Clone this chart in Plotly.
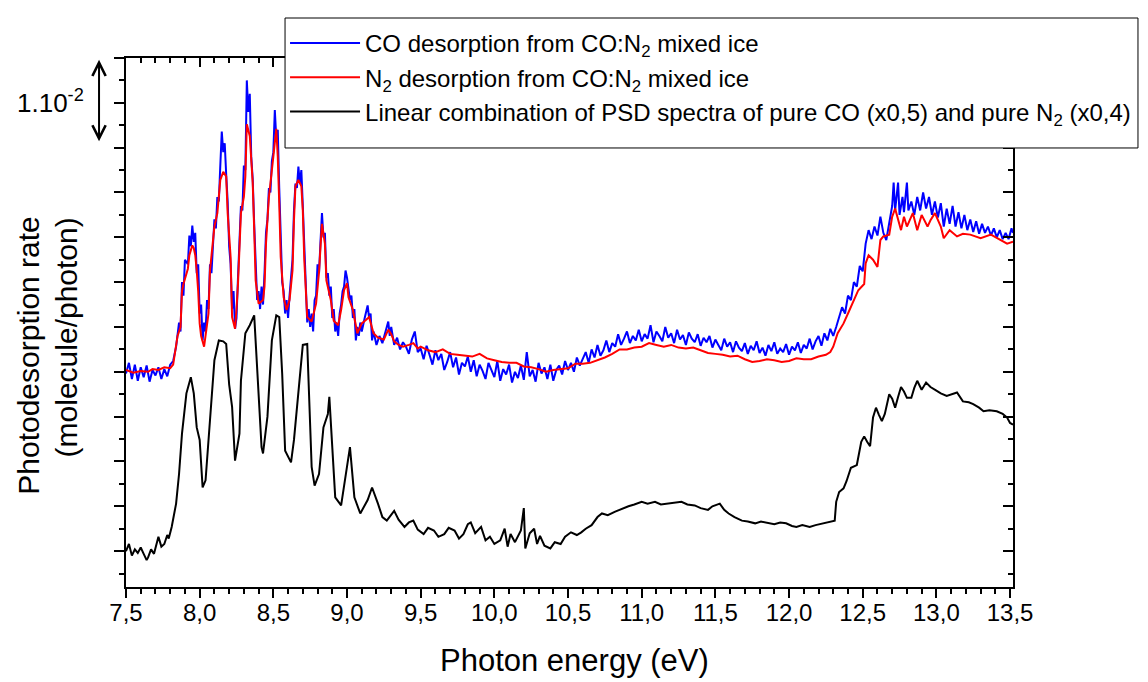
import plotly.graph_objects as go

# ---------------- data (photon energy in eV, rate in units of 1e-2 molecule/photon, arbitrary offset) -------------
co_energy = [7.50, 7.52, 7.54, 7.56, 7.58, 7.60, 7.62, 7.64, 7.66, 7.68, 7.70, 7.72, 7.74, 7.76, 7.78, 7.80,
             7.82, 7.84, 7.86, 7.87, 7.88, 7.89, 7.90, 7.92, 7.93, 7.94, 7.95, 7.96, 7.97, 7.98, 7.99,
             8.00, 8.01, 8.02, 8.03, 8.04, 8.05, 8.06, 8.07, 8.08, 8.10, 8.11, 8.12, 8.13, 8.14, 8.15,
             8.16, 8.17, 8.18, 8.19, 8.20, 8.21, 8.22, 8.23, 8.24, 8.25, 8.26, 8.27, 8.28, 8.29, 8.30,
             8.31, 8.32, 8.33, 8.34, 8.35, 8.36, 8.37, 8.38, 8.39, 8.40, 8.41, 8.42, 8.43, 8.44, 8.45,
             8.46, 8.47, 8.48, 8.49, 8.50, 8.51, 8.52, 8.53, 8.54, 8.55, 8.56, 8.57, 8.58, 8.59, 8.60,
             8.61, 8.62, 8.63, 8.64, 8.65, 8.66, 8.67, 8.68, 8.69, 8.70, 8.71, 8.72, 8.73, 8.74, 8.75,
             8.76, 8.77, 8.78, 8.79, 8.80, 8.81, 8.82, 8.83, 8.84, 8.85, 8.86, 8.87, 8.88, 8.89, 8.90,
             8.91, 8.92, 8.93, 8.94, 8.95, 8.96, 8.97, 8.98, 8.99, 9.00, 9.01, 9.02, 9.03, 9.04, 9.05,
             9.06, 9.07, 9.08, 9.09, 9.10, 9.12, 9.14, 9.15, 9.16, 9.17, 9.18, 9.20, 9.22, 9.24, 9.26,
             9.28, 9.29, 9.30, 9.32,
             9.34, 9.36, 9.38, 9.40, 9.42, 9.44, 9.46, 9.48, 9.50, 9.52, 9.54, 9.56, 9.58, 9.60, 9.62,
             9.64, 9.66, 9.68, 9.70, 9.72, 9.74, 9.76, 9.78, 9.80, 9.82, 9.84, 9.86, 9.88, 9.90, 9.92,
             9.94, 9.96, 9.98, 10.00, 10.02, 10.04, 10.06, 10.08, 10.10, 10.12, 10.14, 10.16, 10.18,
             10.20, 10.22, 10.24, 10.26, 10.28, 10.30, 10.32, 10.34, 10.36, 10.38, 10.40, 10.42, 10.44,
             10.46, 10.48, 10.50, 10.52, 10.54, 10.56, 10.58, 10.60, 10.62, 10.64, 10.66, 10.68, 10.70,
             10.72, 10.74, 10.76, 10.78, 10.80, 10.82, 10.84, 10.86, 10.88, 10.90, 10.92, 10.94, 10.96,
             10.98, 11.00, 11.02, 11.04, 11.06, 11.08, 11.10, 11.12, 11.14, 11.16, 11.18, 11.20, 11.22,
             11.24, 11.26, 11.28, 11.30, 11.32, 11.34, 11.36, 11.38, 11.40, 11.42, 11.44, 11.46, 11.48,
             11.50, 11.52, 11.54, 11.56, 11.58, 11.60, 11.62, 11.64, 11.66, 11.68, 11.70, 11.72, 11.74,
             11.76, 11.78, 11.80, 11.82, 11.84, 11.86, 11.88, 11.90, 11.92, 11.94, 11.96, 11.98, 12.00,
             12.02, 12.04, 12.06, 12.08, 12.10, 12.12, 12.14, 12.16, 12.18, 12.20, 12.22, 12.24, 12.26,
             12.28,
             12.30, 12.32, 12.34, 12.36, 12.38, 12.40, 12.42, 12.44, 12.46, 12.48, 12.50, 12.52, 12.54,
             12.56, 12.58, 12.60, 12.62, 12.64, 12.66, 12.68, 12.70, 12.71, 12.72, 12.74, 12.75, 12.77,
             12.78, 12.80, 12.81, 12.83, 12.85, 12.87, 12.89, 12.91, 12.93, 12.95, 12.97, 12.99, 13.01,
             13.03, 13.05, 13.07, 13.09, 13.11, 13.13, 13.15, 13.17, 13.19, 13.21, 13.23, 13.25, 13.27,
             13.29, 13.31, 13.33, 13.35, 13.37, 13.39, 13.41, 13.43, 13.45, 13.47, 13.49, 13.51, 13.52]
co_rate = [2.48, 2.60, 2.42, 2.58, 2.40, 2.55, 2.44, 2.57, 2.39, 2.52, 2.46, 2.55, 2.42, 2.53, 2.45, 2.58,
           2.62, 2.78, 3.05, 2.95, 3.50, 3.35, 3.75, 3.70, 4.02, 3.90, 4.13, 3.95, 4.05, 3.60, 3.70,
           3.15, 3.25, 2.85, 3.05, 2.95, 3.30, 3.20, 3.70, 3.60, 4.20, 4.10, 4.45, 4.40, 4.80, 5.18,
           4.95, 5.05, 4.70, 4.40, 3.90, 3.70, 3.20, 3.40, 2.98, 3.10, 3.55, 3.90, 4.35, 4.30, 4.80,
           4.75, 5.75, 5.40, 5.60, 4.90, 4.65, 4.15, 3.60, 3.30, 3.40, 3.20, 3.45, 3.25, 3.60, 4.05,
           4.20, 4.55, 4.50, 4.85, 4.95, 5.42, 5.10, 5.20, 4.55, 4.00, 3.50, 3.40, 3.15, 3.30, 3.10,
           3.35, 3.55, 3.75, 4.30, 4.60, 4.55, 4.79, 4.60, 4.75, 4.35, 3.85, 3.40, 3.05, 3.20, 3.00,
           3.15, 2.95, 3.30, 3.35, 3.70, 3.60, 3.95, 4.27, 4.00, 4.05, 3.55, 3.60, 3.35, 3.45, 3.10,
           3.20, 2.95, 3.05, 2.90, 3.15, 3.25, 3.40, 3.45, 3.63, 3.55, 3.45, 3.30, 3.35, 3.10, 3.20,
           2.85, 3.00, 2.90, 3.05, 2.95, 3.10, 3.24, 3.10, 3.15, 2.85, 2.95, 2.80, 2.90, 2.82, 2.95,
           3.06, 2.90, 3.00, 2.80,
           2.88, 2.75, 2.83, 2.78, 2.70, 2.86, 2.95, 2.72, 2.76, 2.64, 2.79, 2.69, 2.58, 2.74, 2.63,
           2.70, 2.52, 2.61, 2.72, 2.55, 2.66, 2.47, 2.60, 2.56, 2.67, 2.50, 2.63, 2.45, 2.58, 2.51,
           2.42, 2.60, 2.52, 2.44, 2.62, 2.40, 2.53, 2.47, 2.58, 2.38, 2.50, 2.43, 2.57,
           2.41, 2.72, 2.45, 2.52, 2.39, 2.60, 2.48, 2.55, 2.42, 2.58, 2.40, 2.52, 2.57,
           2.47, 2.62, 2.52, 2.60, 2.50, 2.66, 2.57, 2.64, 2.72, 2.60, 2.75, 2.66, 2.80,
           2.68, 2.74, 2.85, 2.72, 2.82, 2.78, 2.92, 2.80, 2.87, 2.95, 2.82, 2.90, 2.85,
           2.97, 2.84, 2.92, 2.87, 3.02, 2.83, 2.95, 2.90, 2.84, 3.00, 2.88, 2.93, 2.82,
           2.97, 2.86, 2.91, 2.80, 2.94, 2.87, 2.83, 2.92, 2.79, 2.88, 2.83, 2.90, 2.77,
           2.86, 2.80, 2.74, 2.87, 2.78, 2.83, 2.72, 2.84, 2.77, 2.73, 2.82, 2.70, 2.79,
           2.74, 2.84, 2.71, 2.77, 2.68, 2.80, 2.73, 2.83, 2.70, 2.76, 2.72, 2.81, 2.69,
           2.78, 2.74, 2.83, 2.71, 2.80, 2.76, 2.87, 2.75, 2.84, 2.90, 2.79, 2.93, 2.85,
           2.98,
           2.90, 3.00, 3.10, 3.22, 3.15, 3.35, 3.30, 3.50, 3.45, 3.68, 3.62, 3.93, 4.08,
           3.98, 4.12, 4.02, 4.23, 4.05, 3.97, 4.15, 4.35, 4.61, 4.30, 4.61, 4.25, 4.45,
           4.28, 4.61, 4.30, 4.40, 4.25, 4.45, 4.30, 4.50, 4.32, 4.45, 4.25, 4.40, 4.22,
           4.38, 4.12, 4.32, 4.15, 4.35, 4.12, 4.28, 4.10, 4.25, 4.08, 4.20, 4.06, 4.18,
           4.04, 4.15, 4.05, 4.12, 4.02, 4.10, 4.00, 4.08, 3.98, 4.05, 3.98, 4.10, 4.05]

n2_energy = [7.50, 7.55, 7.60, 7.65, 7.68, 7.72, 7.76, 7.80, 7.82, 7.83, 7.85, 7.87, 7.88, 7.89, 7.91,
             7.92, 7.93, 7.95, 7.96, 7.97, 7.98, 7.99, 8.00, 8.01, 8.03, 8.04, 8.06, 8.07, 8.09, 8.10,
             8.12, 8.14, 8.16, 8.18, 8.19, 8.21, 8.22, 8.24, 8.25, 8.26, 8.28, 8.30, 8.31, 8.32, 8.34,
             8.36, 8.37, 8.38, 8.40, 8.43, 8.44, 8.45, 8.47, 8.49, 8.50, 8.52, 8.53, 8.54, 8.55, 8.57,
             8.59, 8.61, 8.63, 8.64, 8.65, 8.67, 8.69, 8.70, 8.71, 8.73, 8.76, 8.79, 8.81, 8.82, 8.83,
             8.85, 8.86, 8.89, 8.91, 8.94, 8.96, 8.98, 9.00, 9.01, 9.04, 9.07, 9.10, 9.13, 9.15, 9.18,
             9.21, 9.25, 9.28, 9.30, 9.32, 9.35, 9.38, 9.42, 9.45, 9.48, 9.50, 9.55, 9.60, 9.65, 9.70,
             9.75, 9.80, 9.85, 9.90, 9.95, 10.00, 10.05, 10.10, 10.15, 10.20, 10.25, 10.30, 10.35,
             10.40, 10.45, 10.50, 10.55, 10.60, 10.65, 10.70, 10.75, 10.80, 10.85, 10.90, 10.95,
             11.00, 11.05, 11.10, 11.15, 11.20, 11.25, 11.30, 11.35, 11.40, 11.45, 11.50, 11.55,
             11.60, 11.65, 11.70, 11.75, 11.80, 11.85, 11.90, 11.95, 12.00, 12.05, 12.10, 12.15,
             12.20, 12.25, 12.28, 12.30, 12.33, 12.37, 12.40, 12.44, 12.47, 12.51, 12.52, 12.54,
             12.57, 12.60, 12.62, 12.64, 12.68, 12.70, 12.72, 12.76, 12.78, 12.80, 12.84, 12.87,
             12.90, 12.94, 12.96, 12.99, 13.03, 13.05, 13.09, 13.14, 13.18, 13.23, 13.30, 13.37,
             13.44, 13.48, 13.52]
n2_rate = [2.52, 2.49, 2.51, 2.50, 2.53, 2.52, 2.55, 2.54, 2.58, 2.70, 2.90, 3.00, 3.40, 3.48, 3.60,
           3.65, 3.80, 3.91, 3.88, 3.80, 3.63, 3.40, 3.04, 2.90, 2.78, 2.89, 3.15, 3.63, 3.95, 4.12,
           4.27, 4.64, 4.73, 4.68, 4.27, 3.78, 3.11, 2.98, 3.20, 3.48, 4.27, 4.45, 4.68, 5.26, 5.13,
           4.61, 4.09, 3.52, 3.26, 3.30, 3.45, 3.93, 4.45, 4.71, 4.90, 5.21, 4.90, 4.38, 3.78, 3.33,
           3.19, 3.30, 3.63, 4.19, 4.57, 4.64, 4.57, 4.30, 3.75, 3.11, 3.06, 3.26, 3.61, 3.89, 4.15,
           3.93, 3.52, 3.30, 3.07, 3.02, 3.19, 3.41, 3.49, 3.33, 3.19, 2.93, 3.04, 3.08, 3.11, 2.93,
           2.88, 2.86, 2.97, 2.92, 2.84, 2.80, 2.78, 2.80, 2.82, 2.76, 2.78, 2.74, 2.72, 2.75, 2.70,
           2.69, 2.68, 2.67, 2.70, 2.65, 2.63, 2.61, 2.60, 2.60, 2.56, 2.55, 2.53, 2.50,
           2.52, 2.53, 2.54, 2.59, 2.59, 2.60, 2.63, 2.66, 2.70, 2.75, 2.75, 2.77,
           2.78, 2.82, 2.80, 2.78, 2.80, 2.77, 2.76, 2.77, 2.74, 2.71, 2.70, 2.69,
           2.67, 2.68, 2.64, 2.61, 2.62, 2.64, 2.63, 2.61, 2.62, 2.65, 2.64, 2.64,
           2.67, 2.69, 2.72, 2.78, 2.93, 3.04, 3.15, 3.30, 3.41, 3.48, 3.71, 3.80,
           3.75, 3.67, 3.97, 4.01, 4.03, 4.23, 4.32, 4.08, 4.23, 4.12, 4.27, 4.08,
           4.25, 4.12, 4.19, 4.27, 4.12, 3.99, 4.08, 4.01, 4.04, 4.03, 3.99, 4.03,
           3.97, 3.93, 3.95]

lc_energy = [7.50, 7.52, 7.54, 7.56, 7.58, 7.60, 7.62, 7.64, 7.65, 7.67, 7.69, 7.71, 7.72, 7.74, 7.76,
             7.78, 7.79, 7.81, 7.84, 7.86, 7.88, 7.91, 7.94, 7.96, 7.98, 8.00, 8.02, 8.04, 8.06, 8.08,
             8.10, 8.13, 8.16, 8.18, 8.20, 8.22, 8.24, 8.27, 8.28, 8.31, 8.34, 8.37, 8.40, 8.42, 8.43,
             8.46, 8.49, 8.52, 8.54, 8.56, 8.58, 8.60, 8.62, 8.64, 8.67, 8.70, 8.73, 8.75, 8.76, 8.78,
             8.81, 8.84, 8.87, 8.88, 8.90, 8.92, 8.96, 8.99, 9.02, 9.05, 9.09, 9.14, 9.17, 9.21, 9.24,
             9.27, 9.30, 9.32, 9.35, 9.39, 9.42, 9.45, 9.48, 9.52, 9.55, 9.59, 9.62, 9.66, 9.69, 9.73,
             9.76, 9.79, 9.82, 9.84, 9.87, 9.91, 9.94, 9.97, 10.00, 10.04, 10.07, 10.09, 10.11, 10.14,
             10.18, 10.20, 10.21, 10.24, 10.27, 10.29, 10.31, 10.34, 10.38, 10.41, 10.45, 10.48,
             10.52, 10.56, 10.59, 10.62, 10.66, 10.70, 10.73, 10.77, 10.82, 10.86, 10.91, 10.95,
             11.00, 11.04, 11.09, 11.13, 11.18, 11.22, 11.27, 11.31, 11.36, 11.40, 11.45, 11.48,
             11.53, 11.56, 11.59, 11.63, 11.68, 11.72, 11.77, 11.81, 11.86, 11.90, 11.94, 11.98,
             12.02, 12.05, 12.09, 12.14, 12.18, 12.23, 12.27, 12.31, 12.32, 12.34, 12.37, 12.39,
             12.42, 12.46, 12.49, 12.51, 12.53, 12.55, 12.57, 12.59, 12.61, 12.63, 12.65, 12.68,
             12.70, 12.72, 12.74, 12.76, 12.78, 12.80, 12.83, 12.85, 12.87, 12.90, 12.93, 12.96,
             13.00, 13.03, 13.07, 13.10, 13.14, 13.18, 13.22, 13.25, 13.29, 13.32, 13.36, 13.41,
             13.45, 13.48, 13.50, 13.52]
lc_rate = [0.50, 0.58, 0.45, 0.52, 0.48, 0.54, 0.47, 0.40, 0.43, 0.52, 0.47, 0.60, 0.66, 0.55, 0.58,
           0.68, 0.64, 0.77, 1.03, 1.36, 1.81, 2.26, 2.44, 2.26, 1.88, 1.74, 1.21, 1.29, 1.74, 2.11,
           2.63, 2.85, 2.84, 2.81, 2.36, 2.11, 1.51, 1.81, 2.40, 2.93, 3.02, 3.13, 2.22, 1.66, 1.59,
           2.00, 2.85, 3.13, 3.11, 2.48, 1.62, 1.55, 1.49, 1.74, 2.30, 2.80, 2.81, 1.92, 1.44, 1.23,
           1.36, 1.88, 2.03, 2.22, 1.70, 1.10, 1.01, 1.36, 1.66, 1.10, 0.92, 1.07, 1.21, 1.03, 0.88,
           0.84, 0.90, 0.95, 0.85, 0.77, 0.82, 0.84, 0.74, 0.69, 0.76, 0.73, 0.66, 0.69, 0.76, 0.73,
           0.64, 0.69, 0.80, 0.82, 0.70, 0.77, 0.62, 0.66, 0.58, 0.62, 0.75, 0.55, 0.69, 0.60,
           0.73, 0.98, 0.53, 0.70, 0.75, 0.58, 0.67, 0.56, 0.53, 0.60, 0.58, 0.66,
           0.71, 0.68, 0.71, 0.75, 0.79, 0.88, 0.92, 0.90, 0.94, 0.97, 1.00, 1.02,
           1.05, 1.03, 1.05, 1.02, 1.03, 1.04, 1.05, 1.02, 1.01, 0.98, 0.96, 1.00,
           1.03, 0.96, 0.92, 0.88, 0.84, 0.83, 0.81, 0.83, 0.81, 0.80, 0.82, 0.81,
           0.78, 0.77, 0.79, 0.77, 0.79, 0.81, 0.83, 0.84, 1.05, 1.16, 1.20, 1.28,
           1.43, 1.46, 1.72, 1.78, 1.72, 1.67, 1.99, 2.10, 2.02, 1.95, 2.03, 2.25,
           2.20, 2.10, 2.22, 2.33, 2.28, 2.21, 2.21, 2.32, 2.40, 2.30, 2.38, 2.33,
           2.29, 2.26, 2.23, 2.25, 2.27, 2.17, 2.16, 2.14, 2.10, 2.06, 2.07, 2.06,
           2.03, 1.99, 1.93, 1.91]

series_names = ["CO desorption from CO:N<sub>2</sub> mixed ice",
                "N<sub>2</sub> desorption from CO:N<sub>2</sub> mixed ice",
                "Linear combination of PSD spectra of pure CO (x0,5) and pure N<sub>2</sub> (x0,4)"]
series_colors = ["#0000FF", "#FF0000", "#000000"]

x_range = [7.5, 13.52]
y_range = [0.1, 6.0]

FONT = "Liberation Sans, Arial, sans-serif"

fig = go.Figure()
fig.add_trace(go.Scatter(x=co_energy, y=co_rate, mode="lines", name=series_names[0],
                         line=dict(color=series_colors[0], width=2)))
fig.add_trace(go.Scatter(x=n2_energy, y=n2_rate, mode="lines", name=series_names[1],
                         line=dict(color=series_colors[1], width=2)))
fig.add_trace(go.Scatter(x=lc_energy, y=lc_rate, mode="lines", name=series_names[2],
                         line=dict(color=series_colors[2], width=2)))
# empty trace to activate the mirrored (inside-tick) top / right axes
fig.add_trace(go.Scatter(x=[], y=[], xaxis="x2", yaxis="y2", showlegend=False, hoverinfo="skip"))

axis_common = dict(showgrid=False, zeroline=False, linecolor="black", tickcolor="black")

# the page body adds an 8px offset, so the figure is 8px smaller and margins compensate
fig.update_layout(
    width=1140, height=674,
    margin=dict(l=118, r=135, t=50, b=95, autoexpand=False),
    paper_bgcolor="white", plot_bgcolor="white",
    separators=", ",
    font=dict(family=FONT, size=24, color="black"),
    legend=dict(x=0.1793, y=1.070, xanchor="left", yanchor="top",
                borderwidth=0, bgcolor="rgba(0,0,0,0)",
                font=dict(family=FONT, size=24, color="black"),
                itemwidth=70, tracegroupgap=0),
    xaxis=dict(range=x_range, dtick=0.5, tick0=7.5, tickformat=".1f",
               ticks="outside", ticklen=9, tickwidth=2,
               showline=True, linewidth=2, mirror=True,
               tickfont=dict(size=24), ticklabelstandoff=-6,
               minor=dict(ticks="outside", ticklen=5, tickwidth=2, dtick=0.1, tick0=7.5,
                          showgrid=False, tickcolor="black"),
               **axis_common),
    yaxis=dict(range=y_range, dtick=0.5, tick0=0, showticklabels=False,
               ticks="outside", ticklen=10, tickwidth=2,
               showline=True, linewidth=2, mirror=True,
               minor=dict(ticks="outside", ticklen=5, tickwidth=2, dtick=0.25, tick0=0,
                          showgrid=False, tickcolor="black"),
               **axis_common),
    xaxis2=dict(range=x_range, overlaying="x", side="top", anchor="y", matches="x",
                dtick=0.5, tick0=7.5, showticklabels=False,
                ticks="inside", ticklen=9, tickwidth=2, showline=False,
                minor=dict(ticks="inside", ticklen=5, tickwidth=2, dtick=0.1, tick0=7.5,
                           showgrid=False, tickcolor="black"),
                **axis_common),
    yaxis2=dict(range=y_range, overlaying="y", side="right", anchor="x", matches="y",
                dtick=0.5, tick0=0, showticklabels=False,
                ticks="inside", ticklen=10, tickwidth=2, showline=False,
                minor=dict(ticks="inside", ticklen=5, tickwidth=2, dtick=0.25, tick0=0,
                           showgrid=False, tickcolor="black"),
                **axis_common),
)

# legend frame (drawn as a box so its padding matches the original)
fig.add_shape(type="rect", xref="paper", yref="paper",
              x0=0.1793, x1=1.1409, y0=0.8299, y1=1.0756,
              line=dict(color="black", width=1), fillcolor="white", layer="above")

# axis titles
fig.add_annotation(text="Photon energy (eV)", xref="paper", yref="paper",
                   x=0.506, y=-0.138, xanchor="center", yanchor="middle",
                   showarrow=False, font=dict(family=FONT, size=31, color="black"))
fig.add_annotation(text="Photodesorption rate", xref="paper", yref="paper",
                   x=-0.1094, y=0.439, xanchor="center", yanchor="middle", textangle=-90,
                   showarrow=False, font=dict(family=FONT, size=30, color="black"))
fig.add_annotation(text="(molecule/photon)", xref="paper", yref="paper",
                   x=-0.067, y=0.471, xanchor="center", yanchor="middle", textangle=-90,
                   showarrow=False, font=dict(family=FONT, size=30, color="black"))

# scale bar: 1.10^-2
fig.add_annotation(text="1.10<sup>-2</sup>", xref="paper", yref="y",
                   x=-0.045, y=5.52, xanchor="right", yanchor="middle",
                   showarrow=False, font=dict(family=FONT, size=26, color="black"))
fig.add_annotation(text="", xref="paper", yref="y", x=-0.0304, y=5.98,
                   ax=0, ay=83, axref="pixel", ayref="pixel",
                   showarrow=True, arrowside="end+start", arrowhead=5, arrowsize=1.3,
                   arrowwidth=2, arrowcolor="black")

fig.write_html("out.html")
